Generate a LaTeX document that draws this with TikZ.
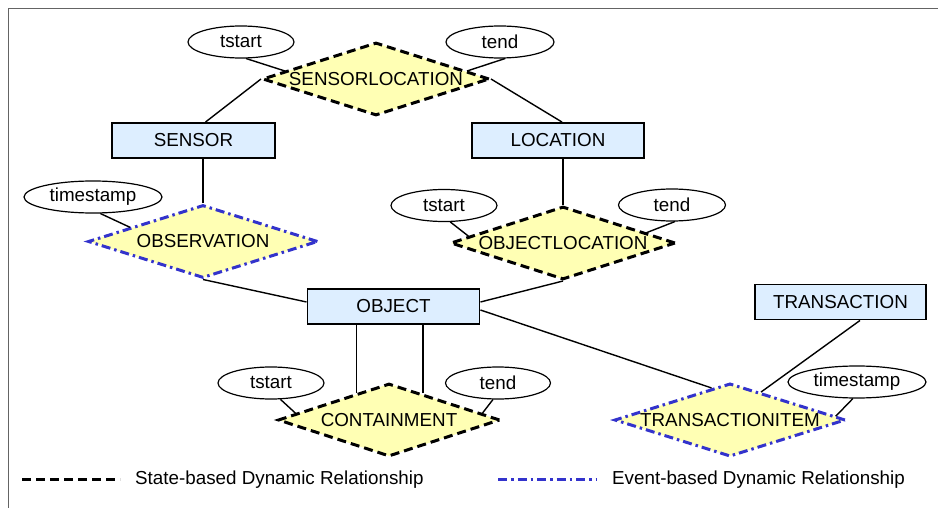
\documentclass[tikz,border=0pt]{standalone}
\usepackage{fontspec}
\setmainfont{Liberation Sans}
\usetikzlibrary{shapes.geometric}
\definecolor{entityblue}{RGB}{221, 238, 255}
\definecolor{relyellow}{RGB}{255, 255, 180}
\definecolor{eventblue}{RGB}{51, 51, 204}
\definecolor{framegray}{RGB}{100, 100, 100}
\tikzstyle{entity}=[shape=rectangle, draw=black, fill=entityblue, line width=1.9pt, minimum height=35pt, inner sep=0pt]
\tikzstyle{staterel}=[shape=diamond, draw=black, fill=relyellow, line width=3pt, dash pattern=on 9pt off 5pt, shape aspect=3, inner sep=0pt, minimum height=73pt]
\tikzstyle{eventrel}=[shape=diamond, draw=eventblue, fill=relyellow, line width=3pt, dash pattern=on 9pt off 4pt on 2.5pt off 4pt, shape aspect=3, inner sep=0pt, minimum height=73pt]
\tikzstyle{attrib}=[shape=ellipse, draw=black, fill=white, line width=1.2pt, minimum height=32pt, inner sep=0pt]
\tikzstyle{link}=[line width=1.4pt, color=black]
\begin{document}
\begin{tikzpicture}[x=1pt, y=-1pt, font=\fontsize{18.8}{22}\selectfont]
    \useasboundingbox (0,0) rectangle (938,508);
    \draw[framegray, line width=1.6pt] (8.5,508) -- (8.5,8.5) -- (938,8.5);

    % Entities
    \node[entity, minimum width=163pt] (sensor) at (193.5,140.5) {SENSOR};
    \node[entity, minimum width=172pt] (location) at (558,140.5) {LOCATION};
    \node[entity, minimum width=172pt] (object) at (393.5,306.5) {OBJECT};
    \node[entity, minimum width=171pt] (transaction) at (840.5,302) {TRANSACTION};

    % Relationships
    \node[staterel, minimum width=227pt] (sensloc) at (376,79) {SENSORLOCATION};
    \node[eventrel, minimum width=230pt] (observ) at (203,241.5) {OBSERVATION};
    \node[staterel, minimum width=225pt] (objloc) at (563,243) {OBJECTLOCATION};
    \node[staterel, minimum width=222pt] (contain) at (389,420) {CONTAINMENT};
    \node[eventrel, minimum width=231pt] (transitem) at (730,420) {TRANSACTIONITEM};

    % Attributes
    \node[attrib, minimum width=106pt] (tstartsl) at (241,42) {tstart};
    \node[attrib, minimum width=108pt] (tendsl) at (500,42) {tend};
    \node[attrib, minimum width=138pt] (stampobs) at (93,197) {timestamp};
    \node[attrib, minimum width=106pt] (tstartol) at (444,205.5) {tstart};
    \node[attrib, minimum width=107pt] (tendol) at (672,205) {tend};
    \node[attrib, minimum width=106pt] (tstartc) at (271,383) {tstart};
    \node[attrib, minimum width=105pt] (tendc) at (498,383) {tend};
    \node[attrib, minimum width=138pt] (stampti) at (857,382) {timestamp};

    % Entity links
    \draw[link] ([xshift=12pt]sensor.north) -- (sensloc.west);
    \draw[link] ([xshift=4pt]location.north) -- (sensloc.east);
    \draw[link] (observ.north) -- (observ.north |- sensor.south);
    \draw[link] (objloc.north) -- (objloc.north |- location.south);
    \draw[link] (observ.south) -- ([yshift=4.5pt]object.west);
    \draw[link] (objloc.south) -- ([yshift=4.5pt]object.east);
    \draw[link] (contain.140) -- (contain.140 |- object.south);
    \draw[link] (contain.38) -- (contain.38 |- object.south);
    \draw[link] ([yshift=-3.5pt]object.east) -- (transitem.120);
    \draw[link] ([xshift=19.5pt]transaction.south) -- (transitem.42);

    % Attribute links
    \draw[link] (tstartsl.287) -- (sensloc.175);
    \draw[link] (tendsl.287) -- (sensloc.5);
    \draw[link] (stampobs.294) -- (observ.169);
    \draw[link] (tstartol.291) -- (objloc.176);
    \draw[link] (tendol.280) -- (objloc.7);
    \draw[link] (tstartc.300) -- (contain.176);
    \draw[link] (tendc.253) -- (contain.4);
    \draw[link] (stampti.256) -- (transitem.2);

    % Legend
    \coordinate (statea) at (22,479);
    \coordinate (stateb) at (120,479);
    \coordinate (eventa) at (498,479);
    \coordinate (eventb) at (597,479);
    \draw[line width=3pt, dash pattern=on 9pt off 5pt] (statea) -- (stateb);
    \draw[eventblue, line width=3pt, dash pattern=on 9pt off 4pt on 2.5pt off 4pt] (eventa) -- (eventb);
    \node[anchor=west, inner sep=0pt] (statetext) at (135,480) {State-based Dynamic Relationship};
    \node[anchor=west, inner sep=0pt] (eventtext) at (612,480) {Event-based Dynamic Relationship};

\end{tikzpicture}
\end{document}
